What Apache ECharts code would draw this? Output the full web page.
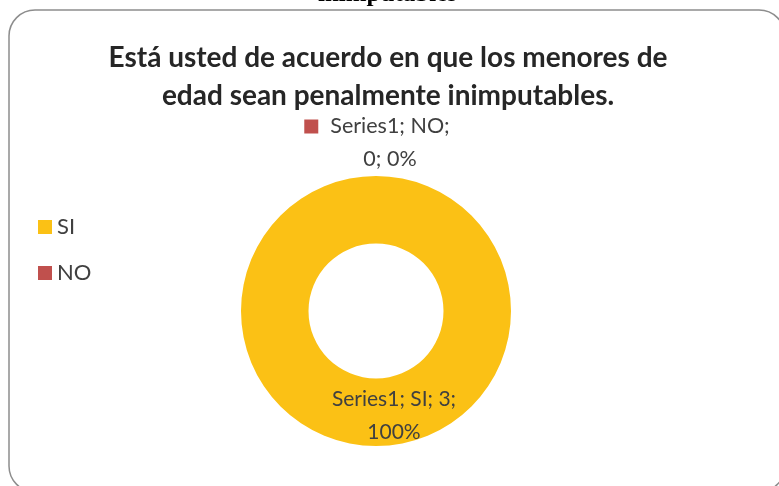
<!DOCTYPE html>
<html>
<head>
<meta charset="utf-8">
<script src="https://cdn.jsdelivr.net/npm/echarts@6/dist/echarts.min.js"></script>
<style>
  html, body { margin: 0; padding: 0; background: #fff; }
  #chart { width: 779px; height: 486px; }
</style>
</head>
<body>
<div id="chart"></div>
<script>
const seriesName = 'Series1';
const categories = ['SI', 'NO'];
const values = [3, 0];
const colors = ['#FBC115', '#C0504D'];

const chart = echarts.init(document.getElementById('chart'));

const pieData = categories.map((name, i) => {
  const item = { name: name, value: values[i], itemStyle: { color: colors[i] } };
  if (values[i] === 0) {
    // empty slice: label sits above the ring with its colour key
    item.label = {
      position: 'outside',
      align: 'center',
      formatter: p => '{sq|}{t|' + p.seriesName + '; ' + p.name + ';}\n{sp|}{t|' + p.value + '; ' + p.percent + '%}',
      rich: {
        sq: { width: 14, height: 14, backgroundColor: colors[i], padding: 0 },
        sp: { width: 14 },
        t: { fontSize: 21.5, lineHeight: 30, color: '#404040', fontFamily: 'Lato', padding: [0, 0, 0, 12] }
      }
    };
    item.labelLine = { show: false };
  }
  return item;
});

const option = {
  animation: false,
  textStyle: { fontFamily: 'Lato' },
  graphic: [
    {
      type: 'rect',
      shape: { x: 9, y: 10, width: 776, height: 482, r: 26 },
      style: { fill: 'none', stroke: '#8d8d8d', lineWidth: 1.5 },
      z: -1
    },
    {
      type: 'text',
      left: 318,
      top: -18,
      style: {
        text: 'inimputables',
        font: 'bold 25px "Liberation Serif"',
        fill: '#000'
      }
    }
  ],
  title: {
    text: 'Está usted de acuerdo en que los menores de\nedad sean penalmente inimputables.',
    left: 383,
    textAlign: 'center',
    top: 34,
    textStyle: {
      fontFamily: 'Lato',
      fontWeight: 'bold',
      fontSize: 28,
      lineHeight: 38,
      color: '#262626'
    }
  },
  legend: {
    orient: 'vertical',
    left: 33,
    top: 211,
    itemWidth: 14,
    itemHeight: 14,
    itemGap: 24,
    icon: 'rect',
    data: categories,
    textStyle: { fontSize: 22, color: '#404040', fontFamily: 'Lato' }
  },
  series: [
    {
      name: seriesName,
      type: 'pie',
      center: [376, 311],
      radius: [67.5, 135],
      startAngle: 90,
      clockwise: true,
      avoidLabelOverlap: false,
      label: {
        show: true,
        position: 'inside',
        fontSize: 21,
        lineHeight: 33,
        color: '#404040',
        fontFamily: 'Lato',
        formatter: p => p.seriesName + '; ' + p.name + '; ' + p.value + ';\n' + p.percent + '%'
      },
      labelLine: { show: false },
      labelLayout: p => (p.dataIndex === 1
        ? { x: 377, y: 143, align: 'center', verticalAlign: 'middle' }
        : { dx: 18, dy: 0 }),
      emphasis: { disabled: true },
      data: pieData
    }
  ]
};

chart.setOption(option);
</script>
</body>
</html>
